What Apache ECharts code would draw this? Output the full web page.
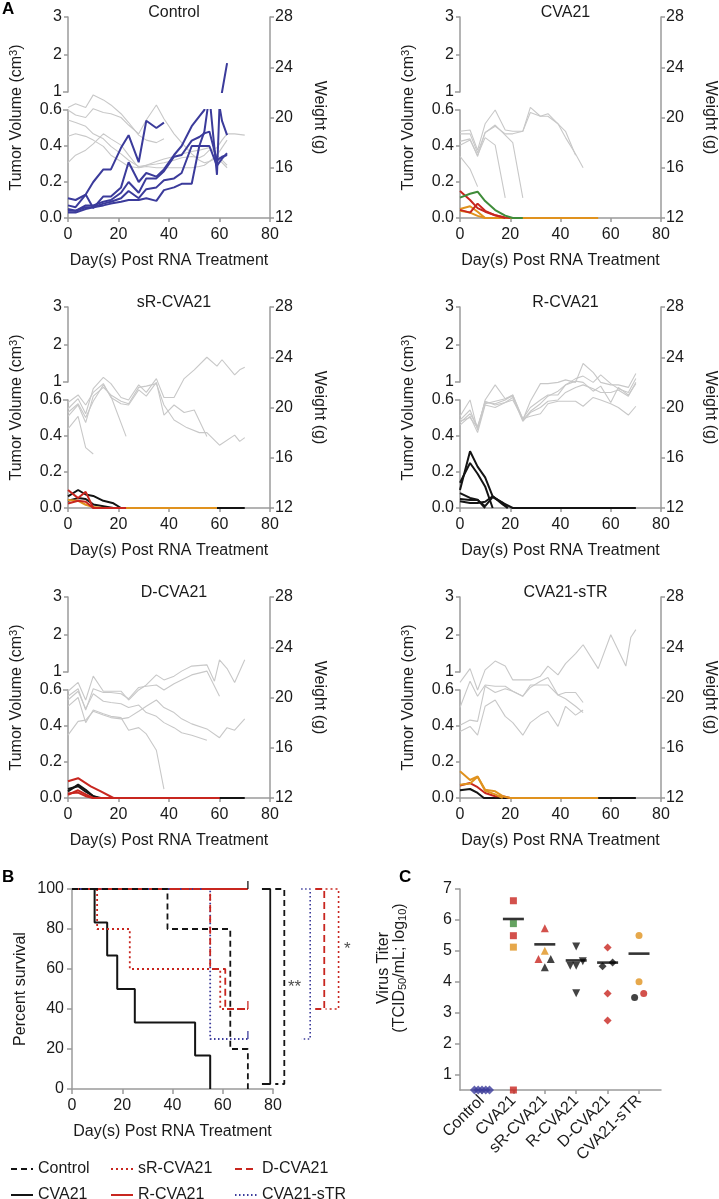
<!DOCTYPE html>
<html><head><meta charset="utf-8">
<script src="https://cdn.jsdelivr.net/npm/echarts@6/dist/echarts.min.js"></script>
<style>html,body{margin:0;padding:0;background:#fff}#c{width:719px;height:1199px}</style>
</head><body><div id="c"></div>
<script>
// ---------------- DATA ----------------
// Panel A: Control
const ctrlDays = [0,3,7,10,14,17,21,24,28,31,35,38,42,45,49,52,54,56,59,61,63];
const ctrlDaysLong = [0,3,7,10,14,17,21,24,28,31,35,38,42,45,49,52,54,56,59,61,63,66,70];
const ctrlTumor1 = [0.11,0.10,0.13,0.20,0.27,0.27,0.39,0.46,0.31,0.54,0.50,0.53];
const ctrlTumor2 = [0.07,0.06,0.13,0.055,0.12,0.12,0.17,0.31,0.20,0.25,0.23,0.27,0.35,0.40,0.51,0.565,0.60,0.75,0.70,0.54,0.46];
const ctrlTumor3 = [0.05,0.04,0.07,0.07,0.09,0.10,0.14,0.20,0.14,0.22,0.22,0.26,0.34,0.35,0.43,0.45,0.47,0.48,0.32,0.34,0.35];
const ctrlTumor4 = [0.04,0.04,0.06,0.06,0.08,0.09,0.11,0.15,0.11,0.16,0.17,0.21,0.22,0.25,0.40,0.40,0.40,0.40,0.29,0.33,0.36];
const ctrlTumor5 = [0.03,0.03,0.05,0.06,0.07,0.08,0.09,0.10,0.10,0.11,0.095,0.155,0.17,0.19,0.19,0.40,0.48,0.68,0.24,1.0,1.77];
const ctrlWeight1 = [20.8,21.1,20.8,21.8,21.4,21.0,20.3,19.6,18.6,18.2,18.0,18.3];
const ctrlWeight2 = [20.6,20.2,20.0,20.7,20.4,20.3,20.0,19.4,18.7,19.8,21.0,19.9,18.7,18.0,17.1,16.6,16.4,16.5,16.8,16.4,16.0];
const ctrlWeight3 = [19.8,19.6,19.3,18.7,18.3,17.7,17.1,16.6,16.1,16.2,16.3,16.4,16.6,16.8,16.9,16.8,17.0,17.4,17.6,18.2,18.7,18.7,18.6];
const ctrlWeight4 = [18.5,18.7,18.5,18.2,17.7,17.0,16.5,16.1,16.0,16.2,16.5,16.7,16.9,17.1,17.3,17.4,17.5,17.6,17.0,17.6,18.2];
const ctrlWeight5 = [16.4,17.0,17.4,17.9,18.7,18.3,17.8,17.0,16.0,16.1,16.0,16.0,16.0,16.0,16.0,16.1,16.2,16.5,17.0,16.6,16.2];

// Panel A: CVA21
const cvaDaysA = [0,4,7,10,14,18,21,25];
const cvaDaysB = [0,4,7,10,14,18,20];
const cvaDaysC = [0,4,7,10,55];
const cvaTumorGreen = [0.113,0.135,0.146,0.094,0.044,0.013,0,0];
const cvaTumorRed1 = [0.15,0.10,0.055,0.035,0.015,0.003,0];
const cvaTumorRed2 = [0.045,0.03,0.08,0.04,0.015,0];
const cvaTumorOrange1 = [0.05,0.065,0.035,0,0];
const cvaTumorOrange2 = [0.04,0.03,0.012,0];
const cvaWDays = [0,4,7,10,14,18,21,25,28,32,35,39,42,46,49];
const cvaWeight1 = [18.9,19.0,17.4,19.5,20.6,19.0,18.9,18.9,20.8,20.1,20.1,19.5,18.9,17.0];
const cvaWeight2 = [18.7,18.7,17.2,18.8,19.3,18.7,18.7,18.9,20.4,20.1,20.3,19.5,18.4,17.1,16.0];
const cvaWeight3 = [18.1,18.3,16.9,18.8,19.4,18.6,18.0,13.6];
const cvaWeight4 = [17.8,18.2,17.0,18.4,17.8,13.6];
const cvaWeight5 = [16.9,15.9,14.5];

// Panel A: sR-CVA21
const srTumorDays1 = [0,4,7,10,14,18,21,70];
const srTumorDays2 = [0,4,7,10,14,18];
const srTumorDays3 = [0,4,7,10,14,59];
const srTumorDays4 = [0,4,7,10,23];
const srTumorBlack1 = [0.065,0.10,0.075,0.067,0.04,0.026,0,0];
const srTumorBlack2 = [0.04,0.055,0.05,0.02,0.01,0];
const srTumorOrange = [0.045,0.04,0.018,0.005,0,0];
const srTumorRed1 = [0.10,0.055,0.09,0,0];
const srTumorRed2 = [0.025,0.04,0.035,0];
const srWDaysA = [0,4,7,10,14,17,21,24,28,31,35,38,42,46,50,55,59,61,66,68,70];
const srWDaysB = [0,4,7,10,14,17,21,24,28,31,35,38,42,47,52,55,60,66,68,70];
const srWDaysD = [0,4,7,10,14,17,23];
const srWeight1 = [19.9,20.7,19.5,21.5,22.4,21.9,20.8,20.6,21.8,21.2,22.3,20.8,20.8,22.3,23.0,24.0,23.3,23.8,22.6,23.0,23.2];
const srWeight2 = [19.3,20.2,18.8,20.9,21.6,21.0,20.5,20.3,21.6,21.7,21.9,20.2,19.0,18.4,18.0,18.0,17.0,17.8,17.3,17.6];
const srWeight3 = [20.4,21.0,20.2,21.2,21.9,20.8,20.3,20.2,21.4,20.9,22.0,19.4,20.2,19.6,19.8,17.7];
const srWeight4 = [19.6,20.3,19.2,20.5,21.8,20.9,17.7];
const srWeight5 = [18.3,19.3,16.8,16.3];

// Panel A: R-CVA21
const rTumorDays1 = [0,4,7,10,13,17,21,70];
const rTumorDays2 = [0,4,7,10,13,17,19];
const rTumor1 = [0.10,0.315,0.23,0.17,0.065,0.028,0,0];
const rTumor2 = [0.14,0.25,0.19,0.12,0];
const rTumor3 = [0.083,0.056,0.046,0];
const rTumor4 = [0.037,0.028,0.028,0.035,0.065,0.02,0];
const rTumor5 = [0.05,0.045,0.045,0.01,0.06,0.03,0];
const rWDays = [0,4,7,10,14,18,21,25,28,32,35,39,42,46,49,53,56,60,63,67,70];
const rWeight1 = [19.3,20.6,18.2,20.6,21.8,20.7,20.9,19.0,20.5,21.9,21.9,22.0,22.2,22.0,23.5,22.8,22.0,21.8,21.8,21.6,22.7];
const rWeight2 = [19.0,19.8,18.3,20.3,20.5,20.7,21.0,19.1,20.0,20.6,21.0,21.0,21.8,22.3,22.5,22.0,22.6,21.9,21.5,21.2,22.3];
const rWeight3 = [18.8,19.5,18.5,20.4,20.3,20.6,21.0,19.0,19.7,20.3,20.9,21.3,21.8,22.1,22.0,21.3,21.7,20.4,21.6,21.0,21.9];
const rWeight4 = [18.6,19.3,18.0,20.2,20.0,20.4,20.6,19.1,19.3,19.5,20.3,20.5,20.5,20.5,20.1,20.8,20.6,20.3,20.0,19.4,20.1];
const rWeight5 = [18.9,19.2,18.4,20.5,20.2,20.4,20.8,18.9,19.6,20.0,20.5,20.6,21.2,21.6,21.8,21.5,21.2,21.2,21.4,20.9,22.0];

// Panel A: D-CVA21
const dTumorDays1 = [0,4,9,13,18,60];
const dTumorDays2 = [0,4,7,10,60];
const dTumorDays3 = [0,4,7,10,13,70];
const dTumorDays4 = [0,4,7,10,12];
const dTumorRed1 = [0.093,0.11,0.065,0.037,0,0];
const dTumorRed2 = [0.018,0.043,0.02,0,0];
const dTumorRed3 = [0.025,0.03,0.01,0];
const dTumorBlack1 = [0.037,0.074,0.046,0.01,0,0];
const dTumorBlack2 = [0.05,0.065,0.035,0.01,0];
const dWDaysA = [0,4,7,10,14,17,21,24,28,31,35,38,42,45,49,55,58,60,63,66,70];
const dWDaysB = [0,4,7,10,14,17,21,24,28,31,35,38,42,45,49,55,60,63,66,70];
const dWeight1 = [20.5,21.2,19.8,21.7,20.5,20.5,20.5,19.8,20.6,21.0,21.8,21.4,21.7,22.1,22.5,22.6,21.3,23.0,22.3,21.2,23.0];
const dWeight2 = [20.1,20.7,19.0,20.7,20.4,20.4,20.3,19.9,20.8,20.9,21.0,20.6,21.1,21.4,21.8,22.1,20.1];
const dWeight3 = [19.3,20.0,18.0,19.0,18.7,18.5,18.4,17.4,17.6,17.1,15.8,12.7];
const dWeight4 = [17.0,18.1,18.2,18.9,18.6,18.4,18.3,18.4,18.9,19.3,19.8,19.2,18.8,18.3,17.9,17.5,16.8,17.6,17.4,18.3];
const dWeight5 = [19.8,20.5,19.1,20.3,19.7,19.6,19.5,19.2,19.4,18.8,18.5,18.0,17.6,17.2,17.0,16.6];

// Panel A: CVA21-sTR
const stTumorDays1 = [0,4,7,10,14,17,20,55];
const stTumorDays2 = [0,4,7,9.5,70];
const stTumorOrange1 = [0.148,0.10,0.12,0.046,0.037,0.01,0,0];
const stTumorOrange2 = [0.074,0.08,0.118,0.04,0.02,0];
const stTumorRed = [0.069,0.083,0.06,0.028,0.01,0.01,0];
const stTumorBlack = [0.043,0.05,0.028,0,0];
const stWDays = [0,4,7,10,14,18,21,25,28,32,35,39,42,46,49,55,60,66,68,70];
const stWeight1 = [21.2,22.3,20.6,22.2,22.9,22.5,21.4,21.4,21.4,21.7,22.5,21.8,22.7,23.5,24.2,22.3,25.0,22.5,24.8,25.4];
const stWeight2 = [19.2,21.3,20.1,21.0,20.9,20.9,20.5,20.1,21.0,21.0,21.0,20.2,20.4,20.4,19.6];
const stWeight3 = [17.8,18.2,18.1,20.9,20.4,20.7,20.5,20.1,20.8,21.3,21.6,20.2,19.9,19.3,18.8];
const stWeight4 = [17.3,17.7,17.0,19.3,19.8,18.5,18.0,17.0,18.0,18.6,18.9,17.7,19.3,18.6,19.0];

// Panel B: survival (Kaplan-Meier)
const survNames = ['Control','CVA21','sR-CVA21','R-CVA21','D-CVA21','CVA21-sTR'];
const survControlDays = [0,38,63,70];   const survControlPct = [100,80,20,0];
const survCVA21Days = [0,9,14,18,25,49,55]; const survCVA21Pct = [100,83.3,66.7,50,33.3,16.7,0];
const survSRDays = [0,10,23,59,70];     const survSRPct = [100,80,60,40,40];
const survRDays = [0,70];               const survRPct = [100,100];
const survDDays = [0,55,61,70];         const survDPct = [100,60,40,40];
const survSTRDays = [0,55,70];          const survSTRPct = [100,25,25];
const censorDays = [70,70,70];          const censorPct = [100,40,25];
const bracketX = [78.9,84.5,94.8,100.4,106.1];
const bracketTop = [100,100,100,100,100];
const bracketBottom = [2.5,2.5,25,40,40];
const starLabels = ['**','*'];
const starX = [88.6,109.6];
const starY = [51,70];

// Panel C: virus titer
const titerGroups = ['Control','CVA21','sR-CVA21','R-CVA21','D-CVA21','CVA21-sTR'];
const titerValues = [
  [0.5,0.5,0.5,0.5,0.5],
  [6.62,5.88,5.49,5.12,0.5],
  [5.73,5.0,4.74,4.74,4.47],
  [5.14,4.52,4.52,4.66,3.63],
  [5.11,4.5,4.62,3.62,2.75],
  [5.5,4.0,3.49,3.62]
];
const titerJitter = [
  [-0.24,-0.12,0,0.12,0.24],
  [0,0,0,0,0],
  [0,0,-0.2,0.19,0],
  [0,-0.19,0,0.21,0],
  [0,-0.16,0.16,0,0],
  [0,0,-0.14,0.15]
];
const titerMouse = [
  ['b','b','b','b','b'],
  ['r','g','r','o','r'],
  ['r','o','r','k','k'],
  ['k','k','k','k','k'],
  ['r','k','k','r','r'],
  ['o','o','k','r']
];
const titerMeans = [null,6.03,5.21,4.69,4.62,4.91];

// ---------------- STYLE / BUILD ----------------
const FONT = '"Liberation Sans", Arial, Helvetica, sans-serif';
const AXC = '#9b9b9b';
const TX = '#1a1a1a';
const COL = {b:'#3b3b9b', r:'#c8261f', o:'#e0921e', g:'#3f8c3a', k:'#141414', gray:'#c8c8c8'};

function zip(d, v){ return v.map((y,i)=>[d[i], y]); }
const aLine = {show:true, onZero:false, lineStyle:{color:AXC, width:1.5}};
const aTick = (len, inside) => ({show:true, inside:!!inside, length:len, lineStyle:{color:AXC, width:1.5}});
const aLab = (m, extra) => Object.assign({color:TX, fontSize:16, fontFamily:FONT, margin:m}, extra||{});
const nameStyle = {color:TX, fontSize:16, fontFamily:FONT};

const grid=[], xAxis=[], yAxis=[], series=[], title=[], graphic=[], legend=[];

function panel(cfg){
  const L = cfg.L, R = cfg.R, base = cfg.base, W = R - L;
  const gLow = grid.length; grid.push({left:L, top:base-108, width:W, height:108});
  const gUp = grid.length; grid.push({left:L, top:base-201, width:W, height:75});
  const gW = grid.length; grid.push({left:L, top:base-201, width:W, height:201});
  const xLow = xAxis.length;
  xAxis.push({type:'value', gridIndex:gLow, min:0, max:80, interval:20, axisLine:aLine, axisTick:aTick(4),
    axisLabel:aLab(9), splitLine:{show:false},
    name:'Day(s) Post RNA Treatment', nameLocation:'middle', nameGap:35, nameTextStyle:nameStyle});
  const xUp = xAxis.length; xAxis.push({type:'value', gridIndex:gUp, min:0, max:80, show:false});
  const xW = xAxis.length; xAxis.push({type:'value', gridIndex:gW, min:0, max:80, show:false});
  const yLow = yAxis.length;
  yAxis.push({type:'value', gridIndex:gLow, min:0, max:0.6, interval:0.2, axisLine:aLine, axisTick:aTick(4),
    axisLabel:aLab(6, {formatter:v=>v.toFixed(1)}), splitLine:{show:false}});
  yAxis.push({type:'value', gridIndex:gLow, min:0, max:0.6, axisLine:{show:false}, axisLabel:{show:false},
    axisTick:Object.assign(aTick(5,true), {customValues:[0.6]}), splitLine:{show:false}});
  const yUp = yAxis.length;
  yAxis.push({type:'value', gridIndex:gUp, min:1, max:3, interval:1, axisLine:aLine, axisTick:aTick(4),
    axisLabel:aLab(6), splitLine:{show:false}});
  yAxis.push({type:'value', gridIndex:gUp, min:1, max:3, axisLine:{show:false}, axisLabel:{show:false},
    axisTick:Object.assign(aTick(5,true), {customValues:[1]}), splitLine:{show:false}});
  const yW = yAxis.length;
  yAxis.push({type:'value', gridIndex:gW, position:'right', min:12, max:28, interval:4, axisLine:aLine,
    axisTick:aTick(4), axisLabel:aLab(5), splitLine:{show:false},
    name:'Weight (g)', nameLocation:'middle', nameRotate:-90, nameGap:41, nameTextStyle:nameStyle});
  yAxis.push({type:'value', gridIndex:gW, position:'left', min:12, max:28, axisLine:{show:false},
    axisTick:{show:false}, axisLabel:{show:false}, splitLine:{show:false},
    name:'{a|Tumor Volume (cm}{s|3}{a|)}', nameLocation:'middle', nameGap:42,
    nameTextStyle:{color:TX, fontFamily:FONT, rich:{
      a:{fontSize:16, fontFamily:FONT, color:TX, lineHeight:18},
      s:{fontSize:11, fontFamily:FONT, color:TX, lineHeight:10, verticalAlign:'top'}}}});
  title.push({text:cfg.name, left:(L+R)/2, top:base-218, textAlign:'center',
    textStyle:{fontSize:16, fontWeight:'normal', fontFamily:FONT, color:TX}});
  cfg.weights.forEach(w => series.push({type:'line', xAxisIndex:xW, yAxisIndex:yW, data:zip(w[0], w[1]),
    symbol:'none', silent:true, lineStyle:{color:COL.gray, width:1.1}, z:2}));
  cfg.tumors.forEach(t => {
    [[xLow,yLow],[xUp,yUp]].forEach(ax => series.push({type:'line', xAxisIndex:ax[0], yAxisIndex:ax[1],
      data:zip(t[0], t[1]), symbol:'none', silent:true, lineStyle:{color:COL[t[2]], width:2}, z:3}));
  });
}

panel({name:'Control', L:68, R:270, base:218,
  weights:[[ctrlDays,ctrlWeight1],[ctrlDays,ctrlWeight2],[ctrlDaysLong,ctrlWeight3],[ctrlDays,ctrlWeight4],[ctrlDays,ctrlWeight5]],
  tumors:[[ctrlDays,ctrlTumor1,'b'],[ctrlDays,ctrlTumor2,'b'],[ctrlDays,ctrlTumor3,'b'],[ctrlDays,ctrlTumor4,'b'],[ctrlDays,ctrlTumor5,'b']]});
panel({name:'CVA21', L:460, R:661, base:218,
  weights:[[cvaWDays,cvaWeight1],[cvaWDays,cvaWeight2],[cvaWDays,cvaWeight3],[cvaWDays,cvaWeight4],[cvaWDays,cvaWeight5]],
  tumors:[[cvaDaysC,cvaTumorOrange1,'o'],[cvaDaysC,cvaTumorOrange2,'o'],[cvaDaysB,cvaTumorRed1,'r'],[cvaDaysB,cvaTumorRed2,'r'],[cvaDaysA,cvaTumorGreen,'g']]});
panel({name:'sR-CVA21', L:68, R:270, base:508,
  weights:[[srWDaysA,srWeight1],[srWDaysB,srWeight2],[srWDaysA,srWeight3],[srWDaysD,srWeight4],[srWDaysD,srWeight5]],
  tumors:[[srTumorDays1,srTumorBlack1,'k'],[srTumorDays2,srTumorBlack2,'k'],[srTumorDays3,srTumorOrange,'o'],[srTumorDays4,srTumorRed1,'r'],[srTumorDays4,srTumorRed2,'r']]});
panel({name:'R-CVA21', L:460, R:661, base:508,
  weights:[[rWDays,rWeight1],[rWDays,rWeight2],[rWDays,rWeight3],[rWDays,rWeight4],[rWDays,rWeight5]],
  tumors:[[rTumorDays1,rTumor1,'k'],[rTumorDays2,rTumor2,'k'],[rTumorDays2,rTumor3,'k'],[rTumorDays2,rTumor4,'k'],[rTumorDays2,rTumor5,'k']]});
panel({name:'D-CVA21', L:68, R:270, base:798,
  weights:[[dWDaysA,dWeight1],[dWDaysB,dWeight2],[dWDaysB,dWeight3],[dWDaysB,dWeight4],[dWDaysB,dWeight5]],
  tumors:[[dTumorDays3,dTumorBlack1,'k'],[dTumorDays4,dTumorBlack2,'k'],[dTumorDays1,dTumorRed1,'r'],[dTumorDays2,dTumorRed2,'r'],[dTumorDays2,dTumorRed3,'r']]});
panel({name:'CVA21-sTR', L:460, R:661, base:798,
  weights:[[stWDays,stWeight1],[stWDays,stWeight2],[stWDays,stWeight3],[stWDays,stWeight4]],
  tumors:[[stTumorDays2,stTumorBlack,'k'],[stTumorDays1,stTumorRed,'r'],[stTumorDays1,stTumorOrange2,'o'],[stTumorDays1,stTumorOrange1,'o']]});

// ---- Panel B ----
const gB = grid.length; grid.push({left:72, top:889, width:201, height:200});
const xB = xAxis.length;
xAxis.push({type:'value', gridIndex:gB, min:0, max:80, interval:20, axisLine:aLine, axisTick:aTick(5),
  axisLabel:aLab(9), splitLine:{show:false}, name:'Day(s) Post RNA Treatment', nameLocation:'middle', nameGap:35, nameTextStyle:nameStyle});
const yB = yAxis.length;
yAxis.push({type:'value', gridIndex:gB, min:0, max:100, interval:20, axisLine:aLine, axisTick:aTick(5),
  axisLabel:aLab(8), splitLine:{show:false}, name:'Percent survival', nameLocation:'middle', nameGap:43, nameTextStyle:nameStyle});
// wider invisible coordinate system sharing the same day/percent scale, for the significance brackets
const BR_MAX = 80 * 290 / 201;
const gBr = grid.length; grid.push({left:72, top:889, width:290, height:200});
const xBr = xAxis.length; xAxis.push({type:'value', gridIndex:gBr, min:0, max:BR_MAX, show:false});
const yBr = yAxis.length; yAxis.push({type:'value', gridIndex:gBr, min:0, max:100, show:false});

const survStyle = {
  'Control':  {color:COL.k, type:[6,4], width:1.8},
  'CVA21':    {color:COL.k, type:'solid', width:2},
  'sR-CVA21': {color:COL.r, type:[2,3], width:1.8},
  'R-CVA21':  {color:COL.r, type:'solid', width:2},
  'D-CVA21':  {color:COL.r, type:[7,4], width:1.8},
  'CVA21-sTR':{color:COL.b, type:[1.5,2.5], width:1.8}
};
const survData = {
  'Control':[survControlDays,survControlPct], 'CVA21':[survCVA21Days,survCVA21Pct],
  'sR-CVA21':[survSRDays,survSRPct], 'R-CVA21':[survRDays,survRPct],
  'D-CVA21':[survDDays,survDPct], 'CVA21-sTR':[survSTRDays,survSTRPct]
};
['R-CVA21','CVA21','CVA21-sTR','sR-CVA21','D-CVA21','Control'].forEach(n => {
  series.push({type:'line', name:n, xAxisIndex:xB, yAxisIndex:yB, step:'end', symbol:'none', silent:true,
    data:zip(survData[n][0], survData[n][1]), lineStyle:survStyle[n], itemStyle:{color:survStyle[n].color}, z:3});
});
series.push({type:'scatter', xAxisIndex:xB, yAxisIndex:yB, silent:true, clip:false, symbol:'rect', symbolSize:[1.6,8],
  data:zip(censorDays, censorPct).map((p,i)=>({value:[p[0], p[1]+2], itemStyle:{color:[COL.k,COL.r,COL.b][i]}})), z:4});
const bracketStyles = [
  {color:COL.k, type:'solid', width:1.8}, {color:COL.k, type:[6,4], width:1.8},
  {color:COL.b, type:[1.5,2.5], width:1.6}, {color:COL.r, type:[7,4], width:1.8}, {color:COL.r, type:[2,3], width:1.6}
];
const bracketArm = [3.3,3.6,3.6,3.6,5.2];
bracketX.forEach((bx,i) => {
  const a = bx - bracketArm[i];
  series.push({type:'line', xAxisIndex:xBr, yAxisIndex:yBr, clip:false, symbol:'none', silent:true,
    data:[[a,bracketTop[i]],[bx,bracketTop[i]],[bx,bracketBottom[i]],[a,bracketBottom[i]]],
    lineStyle:bracketStyles[i], z:3});
});
series.push({type:'scatter', xAxisIndex:xBr, yAxisIndex:yBr, clip:false, silent:true, symbolSize:0,
  data:starX.map((x,i)=>({value:[x, starY[i]], label:{show:true, formatter:starLabels[i], position:'inside',
    color:TX, fontSize:17, fontFamily:FONT}}))});

const legBase = {orient:'vertical', top:1156, height:60, itemWidth:22, itemHeight:14, itemGap:10,
  itemStyle:{opacity:0},
  textStyle:{color:TX, fontSize:16, fontFamily:FONT, lineHeight:16}, selectedMode:false};
legend.push(Object.assign({}, legBase, {left:5, data:['Control','CVA21']}));
legend.push(Object.assign({}, legBase, {left:105, data:['sR-CVA21','R-CVA21']}));
legend.push(Object.assign({}, legBase, {left:229, data:['D-CVA21','CVA21-sTR']}));

// ---- Panel C ----
const gC = grid.length; grid.push({left:460, top:889, width:201, height:201});
const xC = xAxis.length;
xAxis.push({type:'value', gridIndex:gC, min:-0.7, max:5.7, axisLine:aLine,
  axisTick:Object.assign(aTick(4), {customValues:[0,1,2,3,4,5]}),
  axisLabel:aLab(8, {rotate:45, customValues:[0,1,2,3,4,5], formatter:v=>titerGroups[Math.round(v)]}),
  splitLine:{show:false}});
const yC = yAxis.length;
yAxis.push({type:'value', gridIndex:gC, min:0.5, max:7, axisLine:aLine,
  axisTick:Object.assign(aTick(5), {customValues:[1,2,3,4,5,6,7]}),
  axisLabel:aLab(8, {customValues:[1,2,3,4,5,6,7]}), splitLine:{show:false}});
const titerSymbols = ['diamond','rect','triangle','triangle','diamond','circle'];
const titerSizes = [9,7,8,8,8,7];
const titerRot = [0,0,0,180,0,0];
titerGroups.forEach((g,gi) => {
  series.push({type:'scatter', xAxisIndex:xC, yAxisIndex:yC, clip:false, silent:true,
    symbol:titerSymbols[gi], symbolSize:titerSizes[gi], symbolRotate:titerRot[gi],
    data:titerValues[gi].map((v,i)=>({value:[gi + titerJitter[gi][i], v], itemStyle:{color:COL[titerMouse[gi][i]]}})), z:3});
});
series.push({type:'scatter', xAxisIndex:xC, yAxisIndex:yC, silent:true, symbol:'rect', symbolSize:[21,2.6],
  itemStyle:{color:'#000'}, data:titerMeans.map((m,i)=>m==null?null:[i,m]).filter(d=>d), z:4});

// ---- Labels ----
const lbl = (t,x,y) => ({type:'text', left:x, top:y, style:{text:t, font:'bold 17px '+FONT, fill:'#000'}});
graphic.push(lbl('A',2,1), lbl('B',2,869), lbl('C',399,869));
graphic.push({type:'text', x:392, y:968, rotation:Math.PI/2,
  style:{text:'{a|Virus Titer}\n{a|(TCID}{s|50}{a|/mL; log}{s|10}{a|)}', align:'center', verticalAlign:'middle',
    rich:{a:{fontSize:16, fontFamily:FONT, fill:TX, lineHeight:16},
          s:{fontSize:11, fontFamily:FONT, fill:TX, lineHeight:8, verticalAlign:'bottom'}}}});

const chart = echarts.init(document.getElementById('c'), null, {renderer:'canvas'});
chart.setOption({animation:false, backgroundColor:'#fff', textStyle:{fontFamily:FONT},
  grid, xAxis, yAxis, series, title, legend, graphic});
</script></body></html>
